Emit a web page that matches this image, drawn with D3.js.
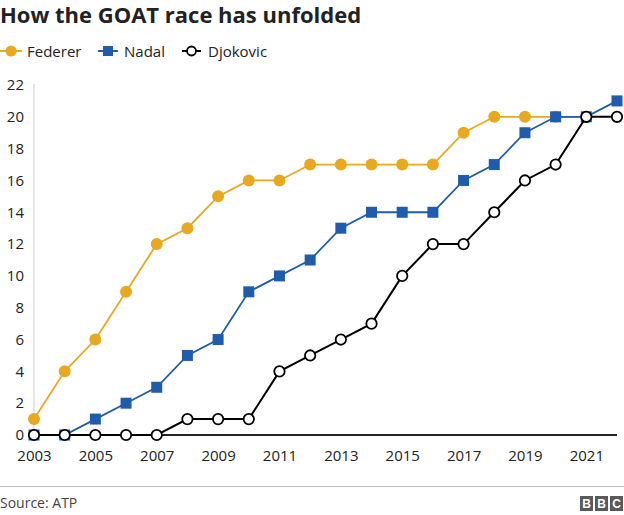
<!DOCTYPE html>
<html>
<head>
<meta charset="utf-8">
<script src="https://cdn.jsdelivr.net/npm/d3@7"></script>
<style>
  html, body { margin: 0; padding: 0; background: #fff; }
  svg { display: block; font-family: "Open Sans", "Noto Sans", sans-serif; }
</style>
</head>
<body>
<svg id="chart" width="624" height="515"></svg>
<script>
const years = d3.range(2003, 2023);
const federer = [1, 4, 6, 9, 12, 13, 15, 16, 16, 17, 17, 17, 17, 17, 19, 20, 20, 20, 20, null];
const nadal = [0, 0, 1, 2, 3, 5, 6, 9, 10, 11, 13, 14, 14, 14, 16, 17, 19, 20, 20, 21];
const djokovic = [0, 0, 0, 0, 0, 1, 1, 1, 4, 5, 6, 7, 10, 12, 12, 14, 16, 17, 20, 20];
const yTicks = [0, 2, 4, 6, 8, 10, 12, 14, 16, 18, 20, 22];
const xTicks = [2003, 2005, 2007, 2009, 2011, 2013, 2015, 2017, 2019, 2021];
const seriesNames = ["Federer", "Nadal", "Djokovic"];
const colors = { Federer: "#E8A820", Nadal: "#1F5DAC", Djokovic: "#000000" };

const svg = d3.select("#chart");
const x = d3.scaleLinear().domain([2003, 2022]).range([34, 617]);
const y = d3.scaleLinear().domain([0, 22]).range([435, 85]);

// Title
svg.append("text").attr("x", 0).attr("y", 23)
  .attr("font-size", 22).attr("font-weight", 700).attr("fill", "#222")
  .text("How the GOAT race has unfolded");

// Legend
const legendItems = [
  { name: "Federer", x: 0, w: 22, textX: 27 },
  { name: "Nadal", x: 98, w: 20, textX: 124 },
  { name: "Djokovic", x: 182, w: 19, textX: 208 }
];
const ly = 51;
legendItems.forEach(it => {
  const c = colors[it.name];
  svg.append("line").attr("x1", it.x).attr("x2", it.x + it.w).attr("y1", ly).attr("y2", ly)
    .attr("stroke", c).attr("stroke-width", 2);
  const cx = it.x + it.w / 2;
  if (it.name === "Federer") {
    svg.append("circle").attr("cx", 11).attr("cy", ly).attr("r", 5.5).attr("fill", c);
  } else if (it.name === "Nadal") {
    svg.append("rect").attr("x", cx - 5).attr("y", ly - 5).attr("width", 10).attr("height", 10).attr("fill", c);
  } else {
    svg.append("circle").attr("cx", cx).attr("cy", ly).attr("r", 4.5).attr("fill", "#fff")
      .attr("stroke", "#000").attr("stroke-width", 1.8);
  }
  svg.append("text").attr("x", it.textX).attr("y", ly + 5.5).attr("font-size", 15).attr("fill", "#222")
    .text(it.name);
});

// Y axis
const yAxis = d3.axisLeft(y).tickValues(yTicks).tickSize(0).tickPadding(0);
const yg = svg.append("g").attr("transform", "translate(24,0)").call(yAxis);
yg.select(".domain").remove();
yg.selectAll("text").attr("font-size", 15).attr("fill", "#222")
  .attr("font-family", "\"Open Sans\", \"Noto Sans\", sans-serif");

// vertical axis line
svg.append("line").attr("x1", x(2003)).attr("x2", x(2003)).attr("y1", y(22) - 1).attr("y2", y(0))
  .attr("stroke", "#cccccc").attr("stroke-width", 1);

// X axis
const xAxis = d3.axisBottom(x).tickValues(xTicks).tickFormat(d3.format("d")).tickSize(0).tickPadding(0);
const xg = svg.append("g").attr("transform", "translate(0,450)").call(xAxis);
xg.select(".domain").remove();
xg.selectAll("text").attr("font-size", 15).attr("fill", "#222")
  .attr("font-family", "\"Open Sans\", \"Noto Sans\", sans-serif");

// baseline
svg.append("line").attr("x1", x(2003)).attr("x2", x(2022)).attr("y1", y(0)).attr("y2", y(0))
  .attr("stroke", "#222").attr("stroke-width", 2);

const data = { Federer: federer, Nadal: nadal, Djokovic: djokovic };
const line = d3.line().defined(d => d.v !== null).x(d => x(d.year)).y(d => y(d.v));

seriesNames.forEach(name => {
  const pts = years.map((yr, i) => ({ year: yr, v: data[name][i] })).filter(d => d.v !== null);
  const c = colors[name];
  svg.append("path").datum(pts).attr("d", line).attr("fill", "none")
    .attr("stroke", c).attr("stroke-width", name === "Djokovic" ? 2 : 1.8);
  const g = svg.append("g");
  if (name === "Federer") {
    g.selectAll("circle").data(pts).join("circle")
      .attr("cx", d => x(d.year)).attr("cy", d => y(d.v)).attr("r", 6).attr("fill", c);
  } else if (name === "Nadal") {
    g.selectAll("rect").data(pts).join("rect")
      .attr("x", d => x(d.year) - 5.5).attr("y", d => y(d.v) - 5.5)
      .attr("width", 11).attr("height", 11).attr("fill", c);
  } else {
    g.selectAll("circle").data(pts).join("circle")
      .attr("cx", d => x(d.year)).attr("cy", d => y(d.v)).attr("r", 5.2)
      .attr("fill", "#fff").attr("stroke", "#000").attr("stroke-width", 1.8);
  }
});

// Footer
svg.append("line").attr("x1", 0).attr("x2", 624).attr("y1", 486.5).attr("y2", 486.5)
  .attr("stroke", "#bbbbbb").attr("stroke-width", 1);
svg.append("text").attr("x", 0).attr("y", 508).attr("font-size", 14).attr("fill", "#444")
  .text("Source: ATP");

const logo = svg.append("g").attr("transform", "translate(580,496)");
["B", "B", "C"].forEach((ch, i) => {
  logo.append("rect").attr("x", i * 15).attr("y", 0).attr("width", 13).attr("height", 15).attr("fill", "#5a5a5a");
  logo.append("text").attr("x", i * 15 + 6.5).attr("y", 12).attr("text-anchor", "middle")
    .attr("font-size", 12).attr("font-weight", 700).attr("fill", "#fff")
    .attr("font-family", "Arial, \"Liberation Sans\", sans-serif").text(ch);
});
</script>
</body>
</html>
